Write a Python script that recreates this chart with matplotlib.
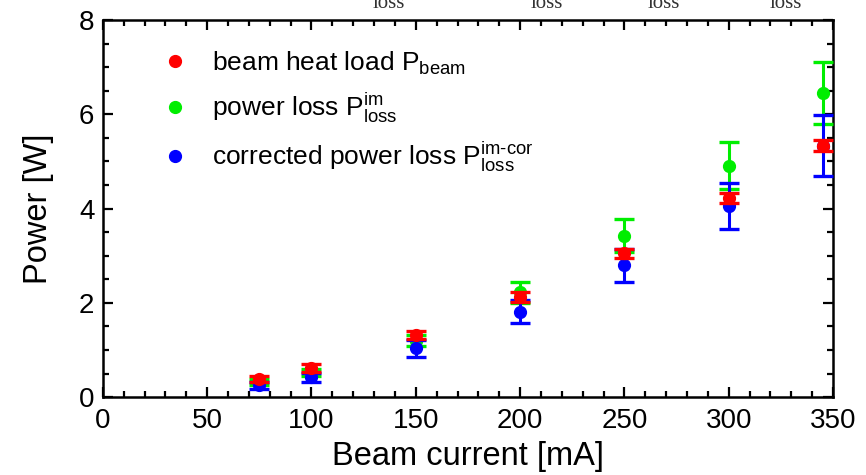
import matplotlib
matplotlib.use("Agg")
import matplotlib.pyplot as plt
from matplotlib.lines import Line2D
from matplotlib.ticker import MultipleLocator

plt.rcParams['font.family'] = ['Liberation Sans', 'DejaVu Sans']
plt.rcParams['mathtext.fontset'] = 'custom'
plt.rcParams['mathtext.rm'] = 'Liberation Sans'
plt.rcParams['mathtext.it'] = 'Liberation Sans'

# beam current [mA]
current = [75, 100, 150, 200, 250, 300, 345]

# beam heat load P_beam
p_beam = [0.38, 0.62, 1.32, 2.12, 3.05, 4.22, 5.33]
p_beam_err = [0.07, 0.08, 0.09, 0.10, 0.10, 0.10, 0.12]

# power loss P_loss^im
p_im = [0.32, 0.52, 1.20, 2.22, 3.42, 4.91, 6.45]
p_im_err = [0.07, 0.08, 0.12, 0.22, 0.35, 0.50, 0.65]

# corrected power loss P_loss^im-cor
p_cor = [0.25, 0.42, 1.04, 1.81, 2.80, 4.05, 5.33]
p_cor_err = [0.08, 0.10, 0.18, 0.24, 0.35, 0.49, 0.65]

red, green, blue = '#ff0000', '#00ee00', '#0000ff'

fig = plt.figure(figsize=(8.66, 4.75), dpi=100)
ax = fig.add_axes([0.1187, 0.164, 0.8433, 0.794])

kw = dict(fmt='o', markersize=8.5, elinewidth=2.2, capsize=7, capthick=2.4)
ax.errorbar(current, p_im, yerr=p_im_err, color=green, zorder=3, **kw)
ax.errorbar(current, p_cor, yerr=p_cor_err, color=blue, zorder=4, **kw)
ax.errorbar(current, p_beam, yerr=p_beam_err, color=red, zorder=5, **kw)

ax.set_xlim(0, 350)
ax.set_ylim(0, 8)
ax.xaxis.set_major_locator(MultipleLocator(50))
ax.xaxis.set_minor_locator(MultipleLocator(10))
ax.yaxis.set_major_locator(MultipleLocator(2))
ax.yaxis.set_minor_locator(MultipleLocator(0.5))
ax.tick_params(which='both', direction='in', top=True, right=True,
               width=1.6, labelsize=20)
ax.tick_params(axis='x', pad=8)
ax.tick_params(axis='y', pad=6)
ax.tick_params(which='major', length=7)
ax.tick_params(which='minor', length=4)
for s in ax.spines.values():
    s.set_linewidth(1.8)

ax.set_xlabel('Beam current [mA]', fontsize=23.5, labelpad=5)
ax.set_ylabel('Power [W]', fontsize=23.5, labelpad=18)

handles = [Line2D([], [], ls='none', marker='o', markersize=8.5, color=c)
           for c in (red, green, blue)]
labels = [r'beam heat load P$_{\mathregular{beam}}$',
          r'power loss P$^{\mathregular{im}}_{\mathregular{loss}}$',
          r'corrected power loss P$^{\mathregular{im\text{-}cor}}_{\mathregular{loss}}$']
ax.legend(handles, labels, loc='upper left', bbox_to_anchor=(0.045, 0.985),
          frameon=False, fontsize=19, handletextpad=0.8, labelspacing=0.55,
          handlelength=1.2)

# bottoms of the cut-off title subscripts
for xp in (389, 547, 664, 786):
    fig.text(xp / 866, 1 - 8 / 475, 'loss', fontsize=15, family='Liberation Serif',
             ha='center', va='baseline', color='#333333')

fig.savefig('out.png', dpi=100)
